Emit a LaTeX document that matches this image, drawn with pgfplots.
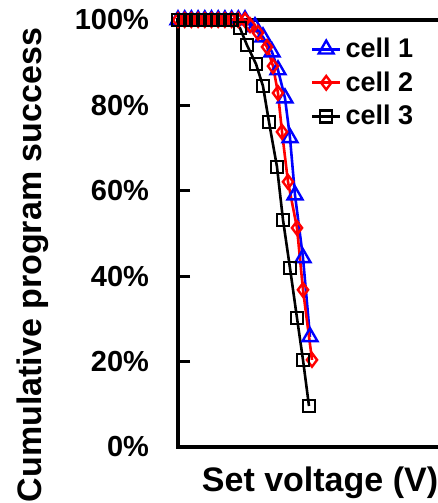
\documentclass[border=0pt]{standalone}
\usepackage{fontspec}
\setmainfont{Liberation Sans}
\usepackage{pgfplots}
\pgfplotsset{compat=1.18}
\begin{document}
\begin{tikzpicture}
\begin{axis}[
 name=ax,
 scale only axis, width=134pt, height=213.5pt,
 xmin=178, xmax=446, ymin=0, ymax=100,
 axis line style={line width=1.6pt},
 xmajorticks=false,
 ytick={0,20,40,60,80,100},
 ytick pos=left,
 tick align=inside,
 major tick length=6pt,
 major tick style={draw=black, line width=1.6pt},
 yticklabel={\pgfmathprintnumber{\tick}\%},
 /pgf/number format/assume math mode=true,
 yticklabel style={font=\fontsize{14.5}{16}\selectfont\bfseries, xshift=-11pt},
 ylabel={Cumulative program success},
 xlabel={Set voltage (V)},
 every axis y label/.style={at={(axis description cs:-0.541,0.426)}, rotate=90, anchor=center, font=\fontsize{17}{20}\selectfont\bfseries},
 every axis x label/.style={at={(axis description cs:0.53,-0.084)}, anchor=center, font=\fontsize{17}{20}\selectfont\bfseries},
 clip=false,
 legend style={draw=none, fill=none, at={(axis description cs:0.487,0.973)}, anchor=north west, font=\fontsize{13.5}{15}\selectfont\bfseries, row sep=1.5pt, inner sep=1pt},
 legend cell align=left,
 legend image code/.code={\draw[mark repeat=2,mark phase=2] plot coordinates {(0pt,0pt)(7pt,0pt)(14pt,0pt)};},
]
\addplot[blue, line width=1.3pt, mark=triangle, mark size=4.3pt, mark options={solid, line width=1.2pt}] coordinates {
(178,100)(184.7,100)(191.4,100)(198.1,100)(204.8,100)(211.5,100)(218.2,100)(224.9,100)(231.6,100)(238.3,100)(245,100)
(255,98.4)(263,96)(272,92.5)(278,88.3)(285,81.7)(290,72.4)(295,59)(303,44.3)(310,25.8)};
\addlegendentry{cell 1}
\addplot[red, line width=1.3pt, mark=diamond, mark size=3.4pt, mark options={solid, line width=1.2pt}] coordinates {
(178,100)(184.7,100)(191.4,100)(198.1,100)(204.8,100)(211.5,100)(218.2,100)(224.9,100)(231.6,100)(238.3,100)(245,100)
(250,98.8)(258,97)(267,93.7)(273,89.2)(278,82.9)(282,73.8)(288,62.1)(297,51.3)(303,36.8)(312,20.4)};
\addlegendentry{cell 2}
\addplot[black, line width=1.3pt, mark=square, mark size=3pt, mark options={solid, line width=1.2pt}] coordinates {
(178,100)(184.7,100)(191.4,100)(198.1,100)(204.8,100)(211.5,100)(218.2,100)(224.9,100)(231.6,100)
(240,98.1)(247,94.1)(256,89.7)(263,84.5)(269,76.1)(277,65.6)(283,53.2)(290,41.9)(297,30.2)(303,20.4)(309,9.6)};
\addlegendentry{cell 3}
\end{axis}
\begin{axis}[
 at={(ax.south west)}, anchor=south east,
 scale only axis, width=134pt, height=213.5pt,
 xmin=0, xmax=1, ymin=0, ymax=100,
 axis line style={draw=none},
 xmajorticks=false,
 ytick={20,40,60,80},
 ytick pos=right,
 tick align=outside,
 major tick length=6pt,
 major tick style={draw=black, line width=1.6pt},
 yticklabels={},
]
\end{axis}
\pgfresetboundingbox
\path ([xshift=-89pt,yshift=-28pt]ax.south west) rectangle ([xshift=-4pt,yshift=10pt]ax.north east);
\end{tikzpicture}
\end{document}
